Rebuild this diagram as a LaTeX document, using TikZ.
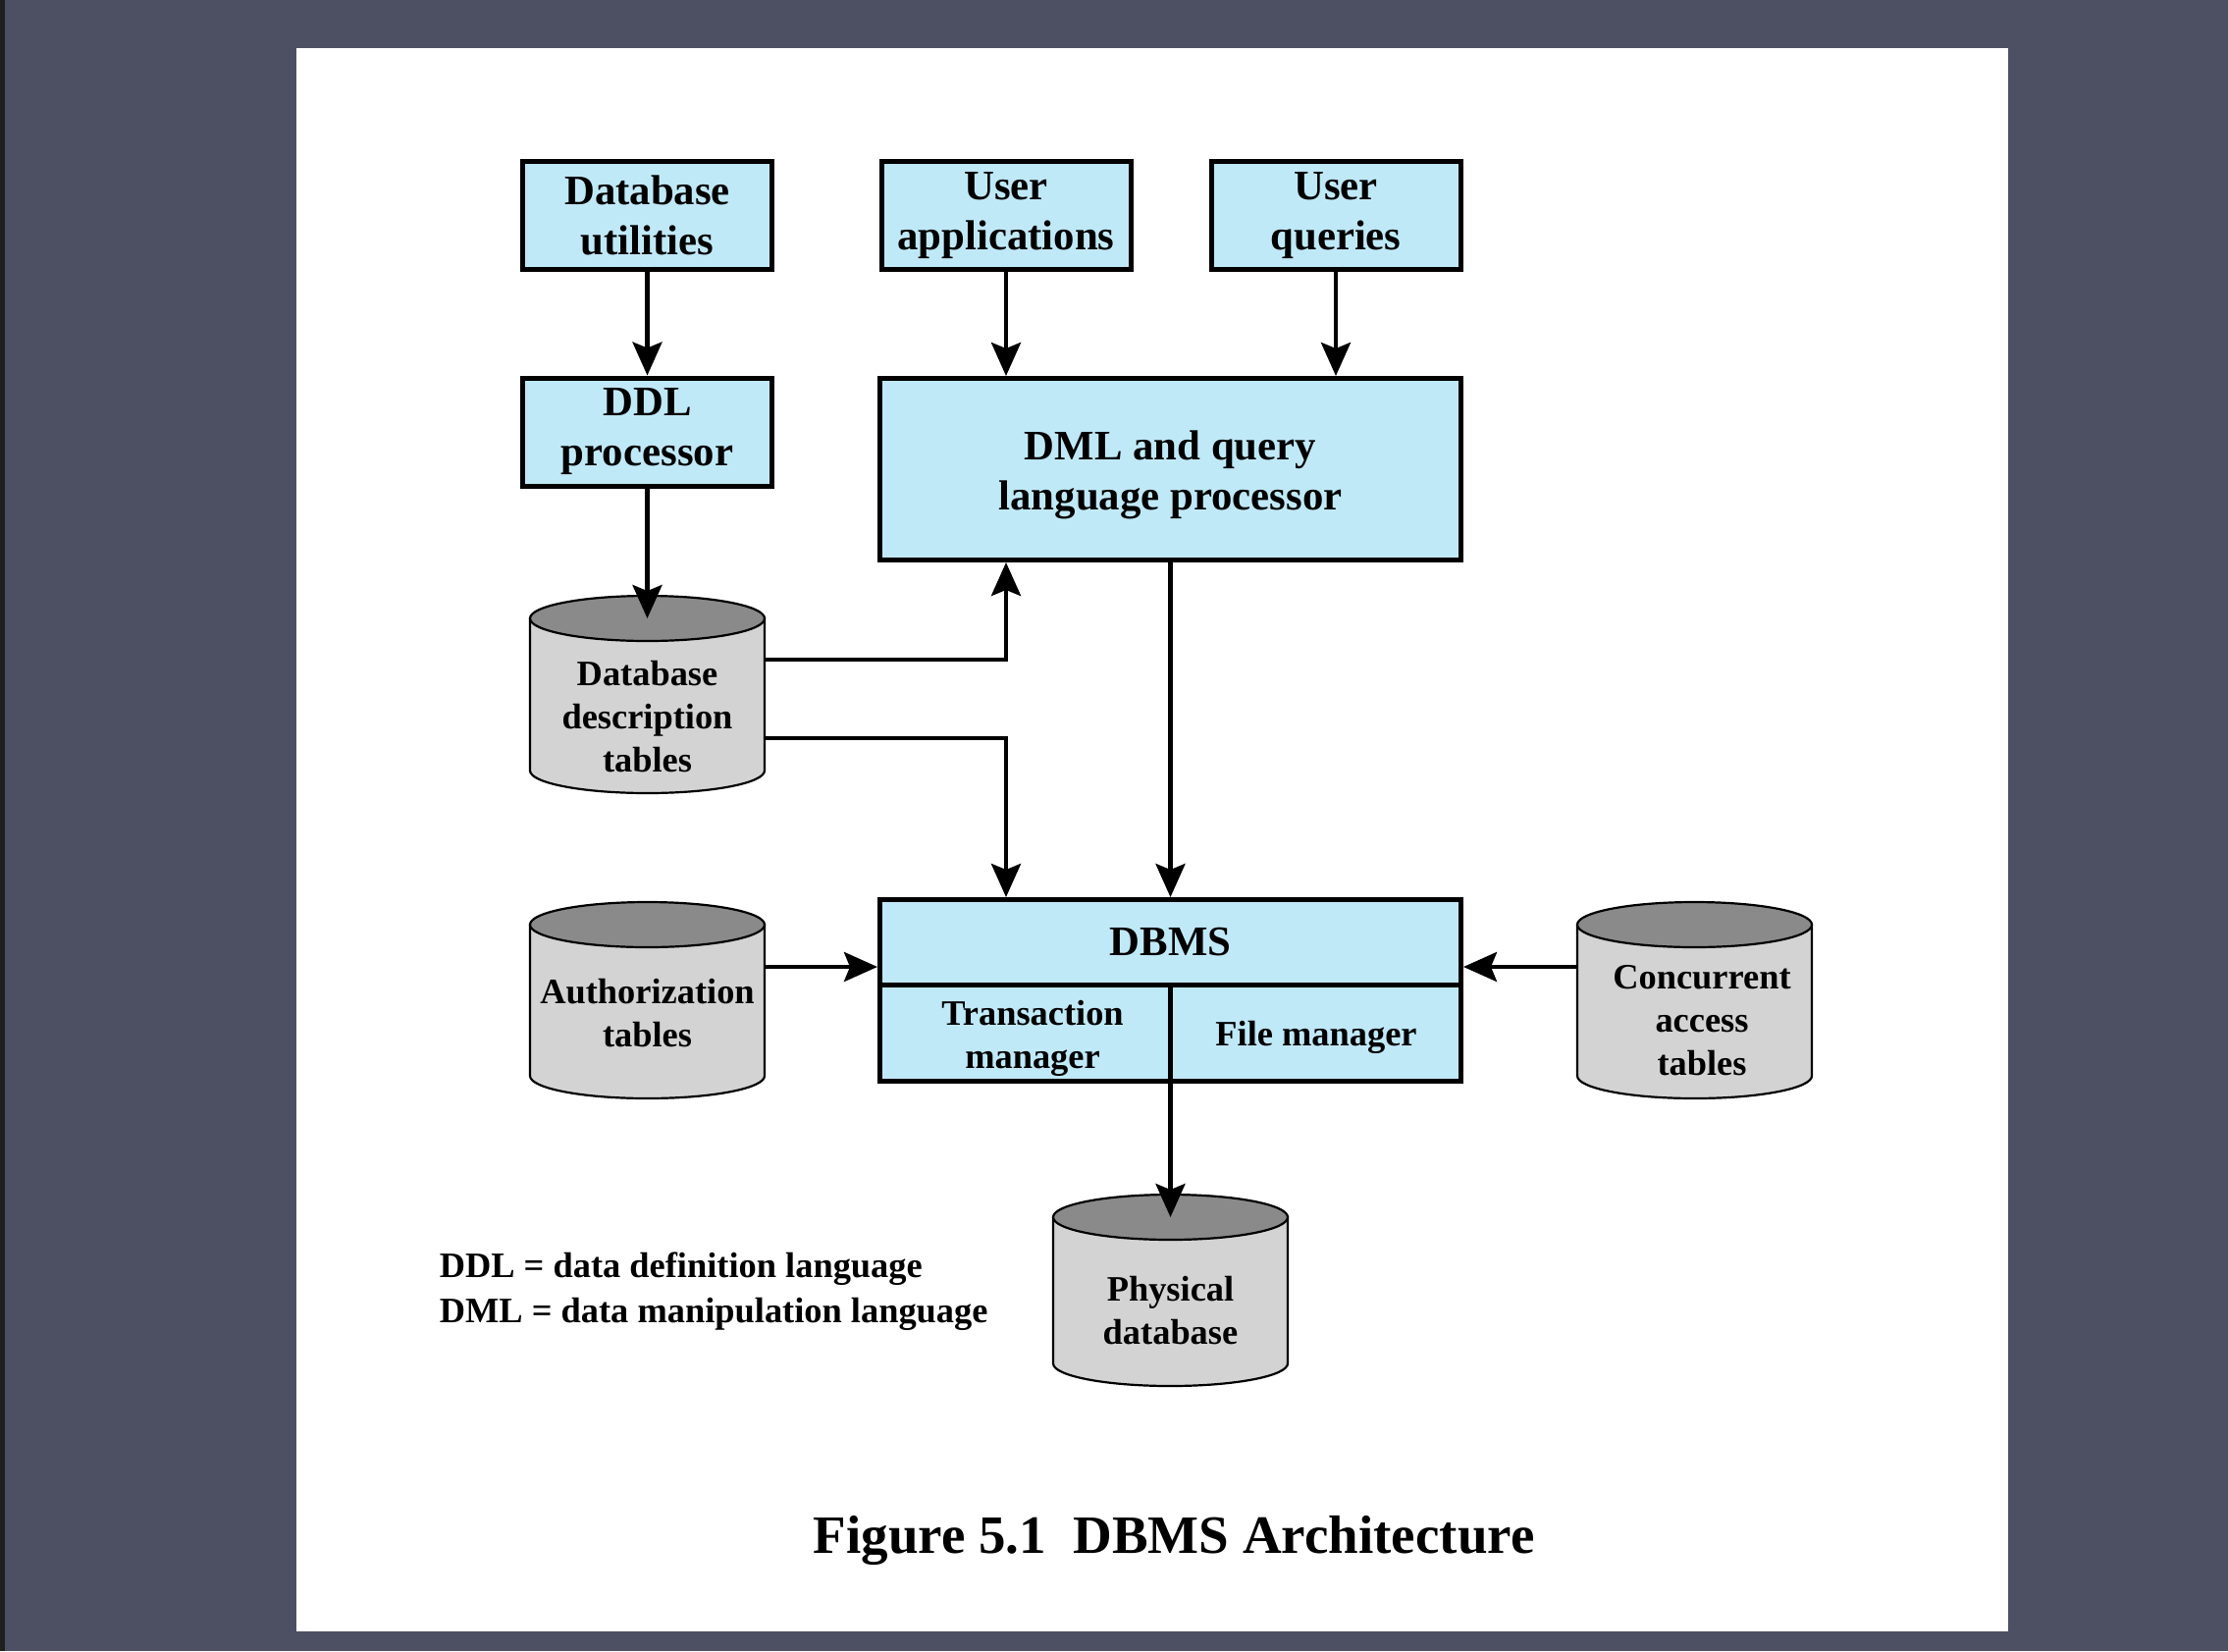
\documentclass[tikz,border=0pt]{standalone}
\usepackage{fontspec}
\setmainfont{Liberation Serif}
\usetikzlibrary{arrows.meta}
\definecolor{bgc}{RGB}{77,80,99}
\definecolor{boxc}{RGB}{192,233,248}
\definecolor{cylbody}{RGB}{211,211,211}
\definecolor{cyltop}{RGB}{138,138,138}
\newcommand\bigbf{\bfseries\fontsize{10.7}{12.75}\selectfont}
\newcommand\smallbf{\bfseries\fontsize{9.1}{11}\selectfont}
% #1 name, #2 centre x, #3 top y, #4 bottom y (pixel units)
\newcommand\dbcyl[4]{%
  \pgfmathsetmacro\cyxl{#2-119.5}%
  \pgfmathsetmacro\cyxr{#2+119.5}%
  \pgfmathsetmacro\cyyt{#3+23}%
  \pgfmathsetmacro\cyyb{#4-23}%
  \pgfmathsetmacro\cyym{(#3+#4)/2}%
  \pgfmathsetmacro\cyh{(#4-#3)*0.25}%
  \filldraw[cylline, fill=cylbody] (\cyxl,\cyyt) -- (\cyxl,\cyyb)
     arc[start angle=180, end angle=360, x radius=29.875pt, y radius=5.75pt]
     -- (\cyxr,\cyyt) -- cycle;
  \filldraw[cylline, fill=cyltop] (#2,\cyyt) ellipse[x radius=29.875pt, y radius=5.75pt];
  \node[inner sep=0pt, minimum width=59.75pt, minimum height=\cyh pt] (#1) at (#2,\cyym) {};
  \coordinate (#1top) at (#2,\cyyt);
}
\begin{document}
\begin{tikzpicture}[x=0.25pt, y=-0.25pt,
  box/.style={draw, line width=1.25pt, fill=boxc, inner sep=0pt, align=center, font=\bigbf},
  subbox/.style={draw, line width=1.25pt, fill=boxc, inner sep=0pt,
     minimum width=74pt, minimum height=24.5pt},
  arr/.style={line width=1.1pt, -{Stealth[length=8.5pt, width=7.5pt, inset=1.5pt]}},
  cylline/.style={line width=0.55pt, draw=black},
  cyltext/.style={align=center, inner sep=0pt, font=\smallbf},
  legend/.style={anchor=base west, inner sep=0pt, font=\smallbf},
]
\useasboundingbox (0,0) rectangle (2270,1682);
\fill[bgc] (0,0) rectangle (2270,1682);
\fill[black!88] (0,0) rectangle (5,1682);
\fill[white] (302,48.5) rectangle (2046,1662);

% top row
\node[box, minimum width=63.5pt, minimum height=27.5pt] (dbu) at (659.5,219.5) {Database\\utilities};
\node[box, minimum width=63.5pt, minimum height=27.5pt] (ua) at (1025,219.5) {User\\applications};
\node[box, minimum width=63.5pt, minimum height=27.5pt] (uq) at (1361,219.5) {User\\queries};

% second row
\node[box, minimum width=63.5pt, minimum height=27.5pt] (ddl) at (659.5,440) {DDL\\processor};
\node[box, minimum width=148pt, minimum height=46.25pt] (dml) at (1192.5,478) {};
\node[cyltext, font=\bigbf] (dmllabel) at (1192.5,484) {DML and query\\language processor};

% DBMS
\node[box, minimum width=148pt, minimum height=21.75pt] (dbms) at (1192.5,960) {DBMS};
\node[subbox] (tm) at (1044.5,1052.5) {};
\node[subbox] (fm) at (1340.5,1052.5) {};
\node[cyltext] (tmlabel) at (1052,1058) {Transaction\\manager};
\node[cyltext] (fmlabel) at (1341,1057) {File manager};

% cylinders
\dbcyl{ddt}{659.5}{607}{808}
\node[cyltext] (ddtlabel) at (659.5,730) {Database\\description\\tables};
\dbcyl{auth}{659.5}{919}{1119}
\node[cyltext] (authlabel) at (659.5,1032) {Authorization\\tables};
\dbcyl{conc}{1726.5}{919}{1119}
\node[cyltext] (conclabel) at (1734,1040) {Concurrent\\access\\tables};
\dbcyl{phys}{1192.5}{1217}{1412}
\node[cyltext] (physlabel) at (1192.5,1335) {Physical\\database};

% helper coordinates
\coordinate (yone) at (0,672);
\coordinate (ytwo) at (0,752);
\coordinate (ythree) at (0,985);

% connectors
\draw[arr] (dbu.south) -- (ddl.north);
\draw[arr] (ua.south) -- (ua.south |- dml.north);
\draw[arr] (uq.south) -- (uq.south |- dml.north);
\draw[arr] (ddl.south) -- (ddttop);
\draw[arr] (ddt.east |- yone) -| (dml.south -| ua.south);
\draw[arr] (ddt.east |- ytwo) -| (dbms.north -| ua.south);
\draw[arr] (dml.south) -- (dbms.north);
\draw[arr] (auth.east |- ythree) -- (dbms.west |- ythree);
\draw[arr] (conc.west |- ythree) -- (dbms.east |- ythree);
\draw[arr] (phystop |- tm.south) -- (phystop);

% legend and caption
\node[legend] (leg1) at (447,1301) {DDL = data definition language};
\node[legend] (leg2) at (447,1347) {DML = data manipulation language};
\node[anchor=base, inner sep=0pt, font=\bfseries\fontsize{13.75}{16}\selectfont] (caption) at (1196,1582) {Figure 5.1\ \ DBMS Architecture};
\end{tikzpicture}
\end{document}
